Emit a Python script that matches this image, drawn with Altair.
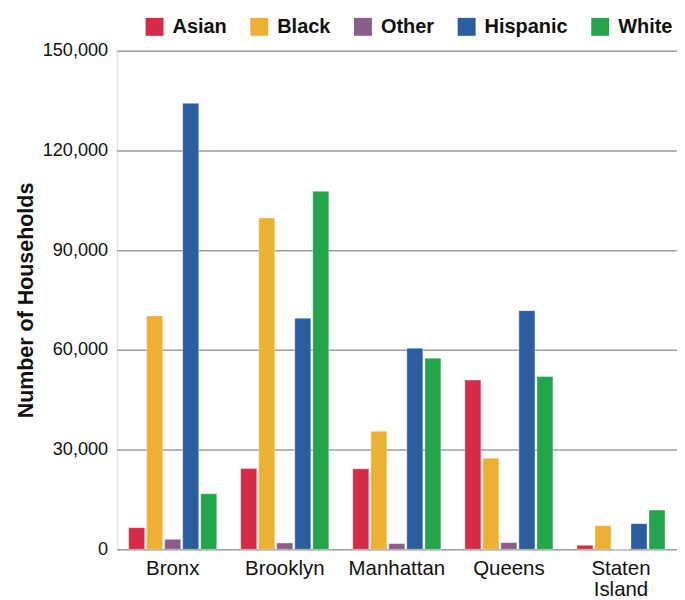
import altair as alt
import pandas as pd

boroughs = ["Bronx", "Brooklyn", "Manhattan", "Queens", "Staten Island"]
groups = ["Asian", "Black", "Other", "Hispanic", "White"]
asian = [6500, 24300, 24200, 50900, 1200]
black = [70200, 99700, 35500, 27400, 7100]
other = [3000, 1900, 1700, 2000, 0]
hispanic = [134200, 69500, 60500, 71800, 7700]
white = [16700, 107700, 57500, 52000, 11800]
colors = ["#D52B47", "#ECB033", "#8A5D8D", "#2B5E9E", "#23A54B"]
y_ticks = [0, 30000, 60000, 90000, 120000, 150000]

series = {"Asian": asian, "Black": black, "Other": other, "Hispanic": hispanic, "White": white}
rows = []
for g in groups:
    for b, v in zip(boroughs, series[g]):
        rows.append({"borough": b, "group": g, "value": v})
df = pd.DataFrame(rows)

FONT = "Liberation Sans"

chart = alt.Chart(df).mark_bar(
    stroke="white", strokeWidth=0.6, strokeOpacity=0.6
).encode(
    x=alt.X(
        "borough:N",
        sort=boroughs,
        scale=alt.Scale(paddingInner=0.214, paddingOuter=0.107),
        axis=alt.Axis(
            title=None, labelAngle=0, domain=False, ticks=False,
            labelFontSize=20.5, labelColor="#111111", labelPadding=9,
            labelFont=FONT, labelLineHeight=21,
            labelExpr="datum.label == 'Staten Island' ? ['Staten', 'Island'] : datum.label",
        ),
    ),
    xOffset=alt.XOffset("group:N", sort=groups, scale=alt.Scale(paddingInner=0.11)),
    y=alt.Y(
        "value:Q",
        scale=alt.Scale(domain=[0, 150000], nice=False),
        axis=alt.Axis(
            values=y_ticks, format=",.0f", title="Number of Households",
            titleFontSize=21.5, titleFontWeight="bold", titleFont=FONT, titleColor="#111111",
            titlePadding=5,
            labelFontSize=18.2, labelFont=FONT, labelColor="#111111", labelPadding=9,
            domain=False, ticks=False,
            grid=True, gridColor="#9E9E9E", gridWidth=1.5,
        ),
    ),
    color=alt.Color(
        "group:N",
        sort=groups,
        scale=alt.Scale(domain=groups, range=colors),
        legend=alt.Legend(
            title=None, orient="none", legendX=28, legendY=-34, direction="horizontal",
            symbolType="square", symbolSize=324, symbolStrokeWidth=0, symbolOpacity=1,
            labelFontSize=20, labelFontWeight="bold", labelFont=FONT, labelColor="#111111",
            columnPadding=22, labelOffset=8,
        ),
    ),
).properties(
    width=562, height=500,
    autosize=alt.AutoSizeParams(type="none"),
    padding={"left": 109, "top": 42, "right": 0, "bottom": 52},
).configure_view(stroke=None).configure(font=FONT)

chart.save("out.html", embed_options={"renderer": "svg", "actions": False})
